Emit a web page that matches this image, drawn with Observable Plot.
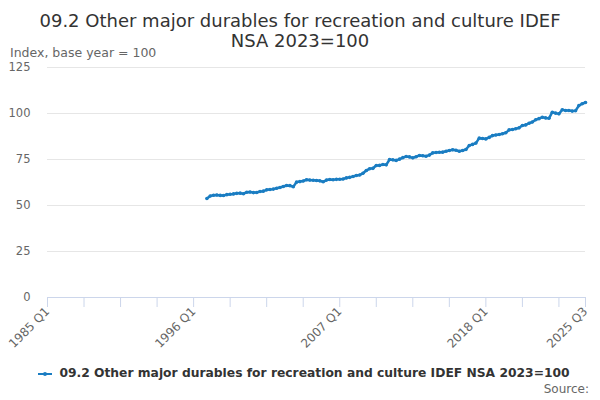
<!DOCTYPE html>
<html>
<head>
<meta charset="utf-8">
<script src="https://cdn.jsdelivr.net/npm/d3@7"></script>
<script src="https://cdn.jsdelivr.net/npm/@observablehq/plot@0.6"></script>
<style>
  body { margin: 0; background: #fff; font-family: "DejaVu Sans", sans-serif; }
  #wrap { position: relative; width: 600px; height: 400px; overflow: hidden; }
  #title { position: absolute; top: 11px; left: 0; width: 600px; text-align: center; font-size: 18px; line-height: 20px; color: #333; }
  #ylab { position: absolute; top: 45px; left: 10px; font-size: 12.5px; color: #666; }
  #chart { position: absolute; top: 0; left: 0; }
  #legend { position: absolute; top: 366px; left: 0; width: 600px; text-align: center; font-size: 12.3px; font-weight: bold; color: #333; white-space: nowrap; padding-left: 8px; box-sizing: border-box; }
  #legend svg { vertical-align: middle; margin-right: 7px; }
  #source { position: absolute; top: 382px; right: 11px; font-size: 12px; color: #666; }
</style>
</head>
<body>
<div id="wrap">
  <div id="title">09.2 Other major durables for recreation and culture IDEF<br>NSA 2023=100</div>
  <div id="ylab">Index, base year = 100</div>
  <div id="chart"></div>
  <div id="legend"><svg width="14" height="10"><line x1="0" x2="14" y1="5" y2="5" stroke="#1a7dc2" stroke-width="2"/><circle cx="7" cy="5" r="2" fill="#1a7dc2"/></svg>09.2 Other major durables for recreation and culture IDEF NSA 2023=100</div>
  <div id="source">Source:</div>
</div>
<script>
const seriesName = "09.2 Other major durables for recreation and culture IDEF NSA 2023=100";
const firstYear = 1985;
const lastYear = 2025;
const lastQuarter = 3;
const dataStart = "1997 Q1";
// Quarterly index values from 1997 Q1 to 2025 Q3
const values = [
  53.8, 55.2, 55.6, 55.7,
  55.5, 55.4, 55.9, 56.1,
  56.3, 56.6, 56.7, 56.4,
  57.2, 57.3, 57.0, 57.1,
  57.6, 57.8, 58.5, 58.7,
  58.9, 59.4, 59.8, 60.3,
  60.9, 60.8, 60.2, 62.7,
  63.0, 63.3, 64.0, 63.8,
  63.7, 63.6, 63.4, 62.9,
  63.8, 64.1, 64.0, 64.2,
  64.3, 64.4, 65.0, 65.3,
  65.8, 66.3, 66.6, 67.5,
  69.0, 70.0, 70.2, 71.7,
  71.8, 72.3, 72.1, 75.0,
  74.8, 74.5, 75.2, 76.0,
  76.6, 76.4, 75.9, 76.5,
  77.2, 77.0, 76.8, 77.4,
  78.6, 78.8, 78.9, 79.0,
  79.5, 79.9, 80.3, 80.0,
  79.5, 79.9, 80.4, 82.6,
  83.2, 83.9, 86.6, 86.4,
  86.2, 87.0, 88.0, 88.3,
  88.6, 89.0, 89.5, 91.1,
  91.3, 91.7, 92.2, 93.5,
  93.8, 94.7, 95.4, 96.6,
  97.2, 98.0, 97.6, 97.4,
  100.7, 100.2, 99.8, 102.0,
  101.6, 101.6, 101.3, 101.5,
  104.3, 105.3, 106.0
];
const labelledTicks = ["1985 Q1", "1996 Q1", "2007 Q1", "2018 Q1", "2025 Q3"];
const yTicks = [0, 25, 50, 75, 100, 125];

// category axis: all quarters
const quarters = [];
for (let y = firstYear; y <= lastYear; y++) {
  for (let q = 1; q <= 4; q++) {
    if (y === lastYear && q > lastQuarter) break;
    quarters.push(`${y} Q${q}`);
  }
}
const startIdx = quarters.indexOf(dataStart);
const data = values.map((v, i) => ({quarter: quarters[startIdx + i], value: v}));
const tickMarks = quarters.filter((d, i) => i % 11 === 0).concat([quarters[quarters.length - 1]]);

const color = "#1a7dc2";
const plot = Plot.plot({
  width: 600,
  height: 360,
  marginTop: 67,
  marginBottom: 63,
  marginLeft: 47,
  marginRight: 15,
  style: {fontFamily: "DejaVu Sans, sans-serif", fontSize: "11.5px", color: "#666", background: "transparent"},
  x: {type: "point", domain: quarters, padding: 0},
  y: {domain: [0, 125]},
  marks: [
    Plot.ruleY(yTicks.filter(d => d > 0), {stroke: "#e6e6e6", strokeWidth: 1}),
    Plot.ruleY([0], {stroke: "#ccd6eb", strokeWidth: 1}),
    Plot.axisY(yTicks, {tickSize: 0, tickPadding: 17, label: null, fill: "#666"}),
    Plot.axisX(tickMarks, {tickSize: 10, stroke: "#ccd6eb", tickFormat: d => labelledTicks.includes(d) ? d : "", tickRotate: -45, tickPadding: 2, label: null, fill: "#666", fontSize: 12}),
    Plot.line(data, {x: "quarter", y: "value", stroke: color, strokeWidth: 2.5}),
    Plot.dot(data, {x: "quarter", y: "value", fill: color, r: 1.8})
  ]
});
document.getElementById("chart").appendChild(plot);
</script>
</body>
</html>
